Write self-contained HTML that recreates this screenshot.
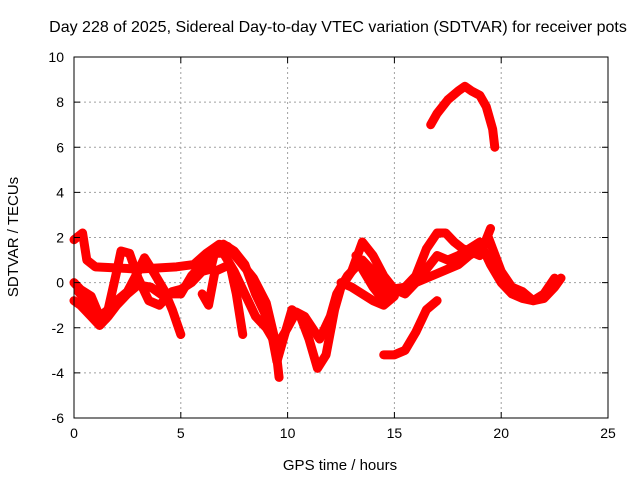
<!DOCTYPE html>
<html><head><meta charset="utf-8"><style>
body{margin:0;background:#fff}
svg{display:block;font-family:"Liberation Sans",sans-serif}
</style></head><body>
<svg id="chart" width="640" height="480" viewBox="0 0 640 480">
<rect width="640" height="480" fill="#fff"/>
<text x="338" y="32" font-size="16" text-anchor="middle">Day 228 of 2025, Sidereal Day-to-day VTEC variation (SDTVAR) for receiver pots</text>
<g id="grid"></g><g id="marks"></g><g id="axes"></g>
<text x="340" y="470" font-size="15" text-anchor="middle">GPS time / hours</text>
<text transform="translate(18,237) rotate(-90)" font-size="15" text-anchor="middle">SDTVAR / TECUs</text>
</svg>
<script>
const xTicks=[0,5,10,15,20,25];
const yTicks=[-6,-4,-2,0,2,4,6,8,10];
const trackA=[[0,1.9],[0.4,2.2],[0.6,1.0],[1,0.7],[3,0.6],[4.8,0.7],[5.6,0.8],[6.2,1.3],[6.8,1.7],[7.2,1.6],[7.8,0.9],[8.4,0.2],[9,-0.9],[9.4,-2.5],[9.6,-4.2]];
const trackB=[[0,-0.8],[0.3,-1.0],[0.8,-1.5],[1.2,-1.9],[1.6,-1.5],[2,-1.0],[2.5,-0.5],[3,-0.1],[3.6,-0.2],[4.2,-0.6],[4.6,-0.4],[5,-0.3],[5.5,0],[6,0.5],[6.4,0.6],[6.6,1.4],[7,1.7],[7.5,1.4],[8,0.8],[8.5,-0.5],[9,-1.5],[9.3,-2.5],[9.5,-3.5],[9.8,-2.5],[10.2,-1.2],[10.6,-1.5],[11,-2.5],[11.4,-3.8],[11.8,-3.2],[12.2,-1.2],[12.5,-0.2],[13,0.5],[13.5,1.8],[14,1.2],[14.5,0.3],[15,-0.3],[15.5,-0.5],[16,0],[16.5,0.6],[17,1.2],[17.5,1.0],[18,1.2],[18.5,1.5],[19,1.8],[19.5,0.8],[20,0],[20.5,-0.5],[21,-0.7],[21.5,-0.8],[22,-0.7],[22.5,-0.2],[22.8,0.2]];
const trackC=[[0,0],[0.3,-0.3],[0.8,-0.6],[1.2,-1.5],[1.6,-1.2],[2,-0.8],[2.5,-0.4],[3,0.5],[3.3,1.1],[3.7,0.5],[4.2,-0.3],[4.6,-1.2],[5,-2.3]];
const trackD=[[0.2,-0.4],[1,-1.3],[1.5,-1.6],[2,0.5],[2.2,1.4],[2.6,1.3],[3,0.2],[3.5,-0.8],[4,-1],[4.5,-0.5],[5,-0.5],[5.5,0.3],[6,0.8],[6.4,1.3],[7,1.3],[7.5,0.5],[8,-0.5],[8.5,-1.5],[9,-2],[9.5,-2.8],[10,-2],[10.4,-1.3],[10.8,-1.5],[11.5,-2.5],[12,-1.5],[12.3,-0.5],[12.8,0.3],[13.5,1],[14,0.5],[14.4,-0.2],[14.8,-0.5],[15.5,-0.3],[16,0],[17,0.4],[18,0.8],[18.5,1.2],[19,1.5],[19.4,2.0],[19.6,1.5],[20,0.5],[20.5,-0.2],[21,-0.4],[21.5,-0.8],[22,-0.5],[22.5,0.2]];
const trackE=[[14.8,-0.3],[15.5,-0.2],[16,0.3],[16.5,1.5],[17,2.2],[17.4,2.2],[17.8,1.8],[18.2,1.5],[18.5,1.4],[19,1.2],[19.5,2.4]];
const trackF=[[13.2,1.2],[13.5,0.6],[14,-0.2],[14.5,-0.8],[15,-0.4]];
const trackG=[[14.5,-3.2],[15,-3.2],[15.5,-3],[16,-2.2],[16.5,-1.2],[17,-0.8]];
const trackH=[[16.7,7.0],[17,7.5],[17.5,8.1],[18,8.5],[18.3,8.7],[18.6,8.5],[19,8.3],[19.3,7.8],[19.6,6.8],[19.7,6.0]];
const trackI=[[12.5,0],[13,-0.2],[13.5,-0.5],[14,-0.8],[14.5,-1.0],[15,-0.6]];
const trackJ=[[6,-0.5],[6.3,-1.0],[6.6,0.5],[7.3,0.8],[7.6,-0.5],[7.9,-2.3]];
const tracks=[trackA,trackB,trackC,trackD,trackE,trackF,trackG,trackH,trackI,trackJ];
const X0=74,X1=608,Y0=418,Y1=57,XMIN=0,XMAX=25,YMIN=-6,YMAX=10;
const sx=v=>X0+(v-XMIN)/(XMAX-XMIN)*(X1-X0);
const sy=v=>Y0-(v-YMIN)/(YMAX-YMIN)*(Y0-Y1);
const NS="http://www.w3.org/2000/svg";
const mk=(t,a)=>{const e=document.createElementNS(NS,t);for(const k in a)e.setAttribute(k,a[k]);return e;};
const grid=document.getElementById('grid'),axes=document.getElementById('axes'),marks=document.getElementById('marks');
xTicks.forEach(t=>{const x=sx(t);
 const g=mk('line',{x1:x,x2:x,y1:Y1,y2:Y0,stroke:'#a0a0a0','stroke-dasharray':'2,3'});
 
 
 grid.appendChild(g);
 const l=mk('text',{x:x,y:Y0+20,'font-size':14,'text-anchor':'middle'});l.textContent=t;
 
 
 axes.appendChild(l);
 axes.appendChild(mk('line',{x1:x,x2:x,y1:Y0,y2:Y0-6,stroke:'#000'}));
 axes.appendChild(mk('line',{x1:x,x2:x,y1:Y1,y2:Y1+6,stroke:'#000'}));});
yTicks.forEach(t=>{const y=sy(t);
 const g=mk('line',{x1:X0,x2:X1,y1:y,y2:y,stroke:'#a0a0a0','stroke-dasharray':'2,3'});
 
 
 grid.appendChild(g);
 const l=mk('text',{x:X0-10,y:y+5,'font-size':14,'text-anchor':'end'});l.textContent=t;
 
 
 axes.appendChild(l);
 axes.appendChild(mk('line',{x1:X0,x2:X0+6,y1:y,y2:y,stroke:'#000'}));
 axes.appendChild(mk('line',{x1:X1,x2:X1-6,y1:y,y2:y,stroke:'#000'}));});
const frame=mk('rect',{x:X0,y:Y1,width:X1-X0,height:Y0-Y1,fill:'none',stroke:'#000'});


axes.appendChild(frame);
tracks.forEach(tr=>{
 const p=mk('polyline',{points:tr.map(d=>sx(d[0])+','+sy(d[1])).join(' '),fill:'none',stroke:'#ff0000','stroke-width':9,'stroke-linejoin':'round','stroke-linecap':'round'});
 
 
 marks.appendChild(p);
});
</script>
</body></html>
